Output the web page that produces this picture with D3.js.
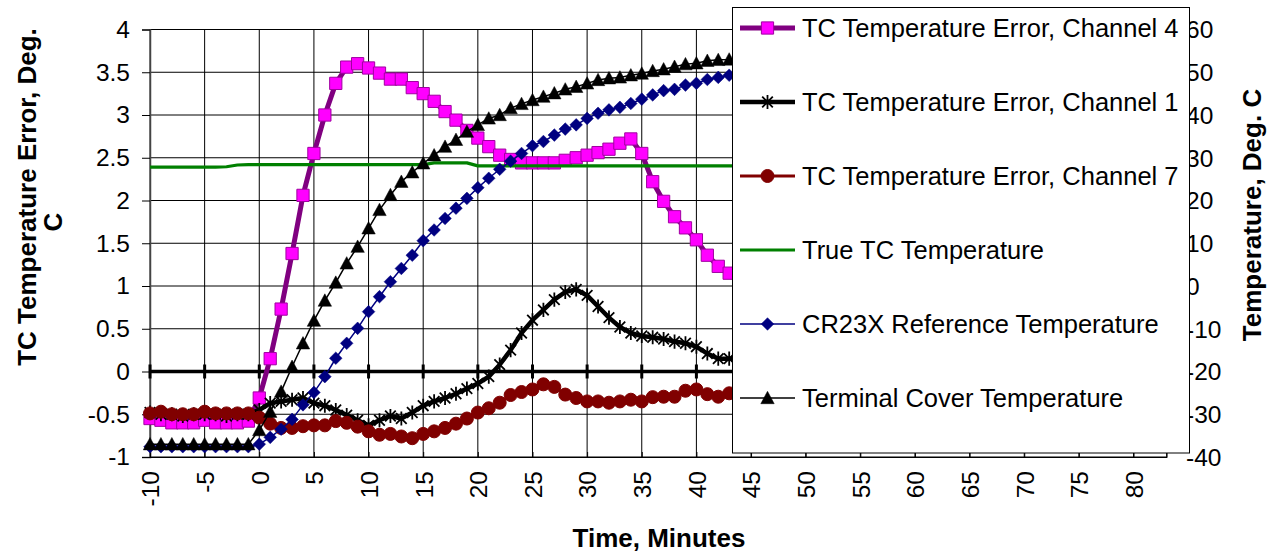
<!DOCTYPE html>
<html><head><meta charset="utf-8">
<script src="https://cdn.jsdelivr.net/npm/d3@7"></script>
<style>
body{margin:0;background:#fff;}
text{font-family:"Liberation Sans",Arial,sans-serif;fill:#000;}
</style>
</head><body>
<svg id="chart" width="1269" height="554"></svg>
<script>
// ---------- data ----------
const minutes = [-10,-9,-8,-7,-6,-5,-4,-3,-2,-1,0,1,2,3,4,5,6,7,8,9,10,11,12,13,14,15,16,17,18,19,20,21,22,23,24,25,26,27,28,29,30,31,32,33,34,35,36,37,38,39,40,41,42,43,44];
const ch4Error = [-0.55,-0.57,-0.6,-0.6,-0.6,-0.57,-0.6,-0.6,-0.6,-0.58,-0.31,0.15,0.73,1.38,2.06,2.55,3.0,3.37,3.56,3.6,3.55,3.49,3.42,3.42,3.32,3.25,3.16,3.04,2.94,2.82,2.73,2.63,2.53,2.48,2.44,2.44,2.44,2.44,2.47,2.5,2.53,2.56,2.6,2.67,2.72,2.55,2.22,1.99,1.81,1.68,1.54,1.36,1.23,1.15,1.08];
const ch1Error = [-0.48,-0.5,-0.5,-0.52,-0.5,-0.5,-0.5,-0.52,-0.5,-0.5,-0.45,-0.37,-0.35,-0.33,-0.31,-0.37,-0.4,-0.45,-0.51,-0.57,-0.63,-0.57,-0.52,-0.55,-0.48,-0.4,-0.35,-0.31,-0.26,-0.2,-0.14,-0.06,0.08,0.25,0.45,0.6,0.72,0.84,0.93,0.96,0.89,0.76,0.63,0.52,0.45,0.415,0.4,0.38,0.35,0.33,0.29,0.21,0.15,0.15,0.15];
const ch7Error = [-0.49,-0.47,-0.5,-0.5,-0.5,-0.47,-0.49,-0.49,-0.49,-0.49,-0.54,-0.61,-0.66,-0.66,-0.64,-0.63,-0.63,-0.58,-0.6,-0.645,-0.7,-0.74,-0.73,-0.76,-0.78,-0.73,-0.7,-0.66,-0.61,-0.55,-0.48,-0.43,-0.365,-0.275,-0.24,-0.21,-0.15,-0.18,-0.27,-0.31,-0.35,-0.35,-0.365,-0.35,-0.33,-0.35,-0.3,-0.295,-0.295,-0.225,-0.21,-0.265,-0.295,-0.255,-0.25];
const trueTemp = [27.8,27.8,27.8,27.8,27.8,27.8,27.8,27.9,28.3,28.4,28.4,28.4,28.4,28.4,28.4,28.4,28.4,28.4,28.4,28.4,28.4,28.4,28.4,28.4,28.4,28.4,28.8,28.8,28.8,28.8,28.1,28.1,28.1,28.1,28.1,28.1,28.1,28.1,28.1,28.1,28.1,28.1,28.1,28.1,28.1,28.1,28.1,28.1,28.1,28.1,28.1,28.1,28.1,28.1,28.1];
const cr23xTemp = [-37.6,-37.6,-37.6,-37.6,-37.6,-37.6,-37.6,-37.6,-37.6,-37.6,-37.0,-35.4,-33.5,-31.2,-27.8,-24.9,-21.2,-16.9,-13.4,-9.9,-6.0,-2.5,1.0,4.1,7.2,10.6,13.1,15.8,18.2,20.5,23.0,25.2,27.3,29.2,31.0,32.8,33.8,35.3,36.7,37.7,39.2,40.4,41.2,41.8,42.7,43.7,44.7,45.7,46.0,47.0,47.4,48.3,48.8,49.3,49.7];
const coverTemp = [-37.0,-37.0,-37.0,-37.0,-37.0,-37.0,-37.0,-37.0,-37.0,-37.0,-33.7,-29.4,-24.7,-18.9,-13.4,-8.1,-3.4,0.8,5.3,9.2,13.5,17.8,21.3,24.4,26.6,28.7,30.6,32.6,34.2,36.1,37.7,39.2,40.0,41.6,42.6,43.5,44.3,45.1,46.0,46.6,47.4,48.2,48.6,48.8,49.3,49.7,50.3,50.7,51.3,51.9,52.1,52.7,52.9,53.0,53.2];

const xTickValues = [-10,-5,0,5,10,15,20,25,30,35,40,45,50,55,60,65,70,75,80];
const leftTickValues = [-1,-0.5,0,0.5,1,1.5,2,2.5,3,3.5,4];
const rightTickValues = [-40,-30,-20,-10,0,10,20,30,40,50,60];
const legendLabels = ["TC Temperature Error, Channel 4","TC Temperature Error, Channel 1","TC Temperature Error, Channel 7","True TC Temperature","CR23X Reference Temperature","Terminal Cover Temperature"];

// ---------- layout ----------
const svg = d3.select("#chart");
const X0 = 150, YT = 29.5, YB = 457;
const x = d3.scaleLinear().domain([-10, 83]).range([X0, X0 + 93 * 54.64 / 5]);
const X1 = x(83);
const yL = d3.scaleLinear().domain([-1, 4]).range([YB, YT]);
const yR = d3.scaleLinear().domain([-40, 60]).range([YB, YT]);
const FS = 24.5, TFS = 26;

// gridlines
const grid = svg.append("g");
grid.selectAll("line.h").data(leftTickValues).join("line")
  .attr("x1", X0).attr("x2", X1).attr("y1", d => yL(d)).attr("y2", d => yL(d))
  .attr("stroke", "#000").attr("stroke-width", 1);
grid.selectAll("line.v").data(xTickValues).join("line")
  .attr("x1", d => x(d)).attr("x2", d => x(d)).attr("y1", YT).attr("y2", YB)
  .attr("stroke", "#000").attr("stroke-width", 1);

// left axis
const leftAxis = svg.append("g").attr("transform", `translate(${X0},0)`)
  .call(d3.axisLeft(yL).tickValues(leftTickValues).tickSize(8).tickPadding(12).tickFormat(d => String(d)));
leftAxis.select(".domain").attr("stroke", "#444").attr("stroke-width", 1.5);
leftAxis.selectAll(".tick line").attr("stroke", "#000");
leftAxis.selectAll("text").style("font-size", FS + "px").attr("fill", "#000");

// bottom axis
const bottomAxis = svg.append("g").attr("transform", `translate(0,${YB})`)
  .call(d3.axisBottom(x).tickValues(xTickValues.concat([83])).tickSize(-5).tickFormat(d => d === 83 ? "" : String(d)));
bottomAxis.select(".domain").attr("stroke", "#000").attr("stroke-width", 1.2);
bottomAxis.selectAll(".tick line").attr("stroke", "#000");
bottomAxis.selectAll("text").style("font-size", FS + "px")
  .attr("text-anchor", "end").attr("transform", "rotate(-90)")
  .attr("x", -14).attr("y", 0).attr("dy", "0.36em");

// zero line (crossing axis) with tick marks
const zeroG = svg.append("g");
zeroG.append("line").attr("x1", X0).attr("x2", X1).attr("y1", yL(0)).attr("y2", yL(0))
  .attr("stroke", "#000").attr("stroke-width", 3.5);
zeroG.selectAll("line.t").data(xTickValues).join("line")
  .attr("x1", d => x(d)).attr("x2", d => x(d)).attr("y1", yL(0) - 7).attr("y2", yL(0) + 7)
  .attr("stroke", "#000").attr("stroke-width", 3);

// right axis labels
svg.append("g").selectAll("text").data(rightTickValues).join("text")
  .attr("x", 1186).attr("y", d => yR(d)).attr("dy", "0.36em")
  .style("font-size", FS + "px").text(d => String(d));

// ---------- markers ----------
const starSym = { draw(ctx, size) { const r = Math.sqrt(size) / 2; const d = r * 0.75;
  ctx.moveTo(0, -r); ctx.lineTo(0, r); ctx.moveTo(-d, -d); ctx.lineTo(d, d); ctx.moveTo(-d, d); ctx.lineTo(d, -d); } };
const diamondSym = { draw(ctx, size) { const r = Math.sqrt(size) / 2;
  ctx.moveTo(0, -r); ctx.lineTo(r, 0); ctx.lineTo(0, r); ctx.lineTo(-r, 0); ctx.closePath(); } };
const triSym = { draw(ctx, size) { const w = Math.sqrt(size) / 2;
  ctx.moveTo(0, -w); ctx.lineTo(w, w * 0.85); ctx.lineTo(-w, w * 0.85); ctx.closePath(); } };

const seriesDefs = [
  { vals: ch4Error, y: yL, line: "#800080", lw: 5, sym: d3.symbolSquare, size: 150, fill: "#FF00FF", stroke: "#A000A0", sw: 1 },
  { vals: ch1Error, y: yL, line: "#000000", lw: 4.5, sym: starSym, size: 200, fill: "none", stroke: "#000", sw: 1.8 },
  { vals: ch7Error, y: yL, line: "#800000", lw: 3, sym: d3.symbolCircle, size: 133, fill: "#800000", stroke: "#800000", sw: 1 },
  { vals: trueTemp, y: yR, line: "#008000", lw: 3.2, sym: null },
  { vals: cr23xTemp, y: yR, line: "#000080", lw: 1.5, sym: diamondSym, size: 160, fill: "#000080", stroke: "#000080", sw: 0.5 },
  { vals: coverTemp, y: yR, line: "#000000", lw: 1.5, sym: triSym, size: 180, fill: "#000", stroke: "#000", sw: 0.5 }
];

const plot = svg.append("g");
seriesDefs.forEach(s => {
  const pts = minutes.map((m, i) => [m, s.vals[i]]);
  const g = plot.append("g");
  g.append("path").datum(pts)
    .attr("d", d3.line().x(d => x(d[0])).y(d => s.y(d[1])))
    .attr("fill", "none").attr("stroke", s.line).attr("stroke-width", s.lw).attr("stroke-linejoin", "round");
  if (s.sym) {
    g.selectAll("path.m").data(pts).join("path")
      .attr("transform", d => `translate(${x(d[0])},${s.y(d[1])})`)
      .attr("d", d3.symbol().type(s.sym).size(s.size))
      .attr("fill", s.fill).attr("stroke", s.stroke).attr("stroke-width", s.sw);
  }
});

// ---------- legend ----------
const lg = svg.append("g");
lg.append("rect").attr("x", 732.5).attr("y", 7.5).attr("width", 457).attr("height", 445.5)
  .attr("fill", "#fff").attr("stroke", "#000").attr("stroke-width", 1);
const legendY = [28, 102, 176, 250, 324, 398];
seriesDefs.forEach((s, i) => {
  const yy = legendY[i];
  lg.append("line").attr("x1", 740).attr("x2", 795).attr("y1", yy).attr("y2", yy)
    .attr("stroke", s.line).attr("stroke-width", s.lw);
  if (s.sym) {
    lg.append("path").attr("transform", `translate(767.5,${yy})`)
      .attr("d", d3.symbol().type(s.sym).size(s.size))
      .attr("fill", s.fill).attr("stroke", s.stroke).attr("stroke-width", s.sw);
  }
  lg.append("text").attr("x", 802).attr("y", yy).attr("dy", "0.36em")
    .style("font-size", "25.5px").text(legendLabels[i]);
});

// ---------- titles ----------
svg.append("text").attr("transform", "translate(36,197) rotate(-90)")
  .attr("text-anchor", "middle").style("font-size", TFS + "px").style("font-weight", "bold")
  .text("TC Temperature Error, Deg.");
svg.append("text").attr("transform", "translate(62,222) rotate(-90)")
  .attr("text-anchor", "middle").style("font-size", TFS + "px").style("font-weight", "bold")
  .text("C");
svg.append("text").attr("transform", "translate(1261,215) rotate(-90)")
  .attr("text-anchor", "middle").style("font-size", TFS + "px").style("font-weight", "bold")
  .text("Temperature, Deg. C");
svg.append("text").attr("x", 659).attr("y", 547)
  .attr("text-anchor", "middle").style("font-size", TFS + "px").style("font-weight", "bold")
  .text("Time, Minutes");
</script>
</body></html>
